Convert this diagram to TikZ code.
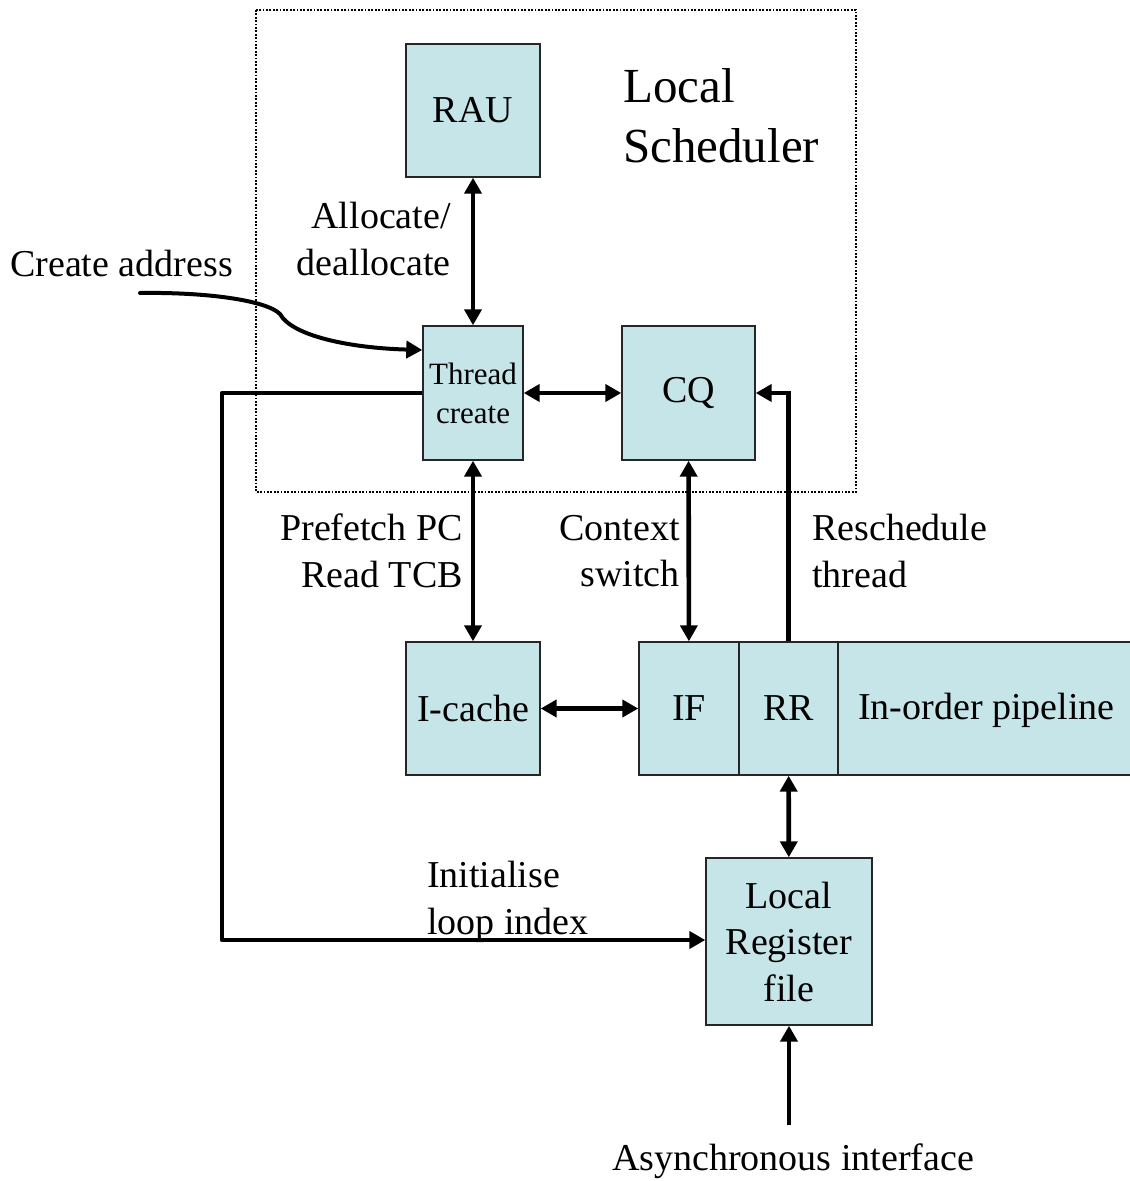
\documentclass[tikz,border=0pt]{standalone}
\usepackage{fontspec}
\setmainfont{Liberation Serif}
\usetikzlibrary{arrows.meta}
\definecolor{cellfill}{RGB}{198,229,232}
\newcommand{\lbl}{\fontsize{38}{46.5}\selectfont}
\newcommand{\titlelbl}{\fontsize{49}{60}\selectfont}
\newcommand{\smalllbl}{\fontsize{31}{39}\selectfont}
\begin{document}
\begin{tikzpicture}[x=1pt,y=-1pt,
  unit/.style={draw=black!85, line width=1.4pt, fill=cellfill, inner sep=0pt, align=center, font=\lbl},
  txt/.style={inner sep=0pt, font=\lbl},
  link/.style={line width=4.6pt, {Triangle[length=16pt,width=17pt]}-{Triangle[length=16pt,width=17pt]}},
  feed/.style={line width=4.6pt, -{Triangle[length=16pt,width=17pt]}},
  scope box/.style={line width=2.8pt, dash pattern=on 1.8pt off 1.6pt}]
\clip (0,0) rectangle (1130,1181);
\fill[white] (0,0) rectangle (1130,1181);

% local scheduler boundary
\draw[scope box] (256,10) rectangle (856,492);
\node[txt, font=\titlelbl, align=left, anchor=west] (lsched) at (623,116) {Local\\Scheduler};

% functional units
\node[unit, minimum width=134pt, minimum height=133pt] (rau) at (473,110.5) {RAU};
\node[unit, minimum width=100pt, minimum height=134pt, font=\smalllbl] (tc) at (473,393) {Thread\\create};
\node[unit, minimum width=133pt, minimum height=134pt] (cq) at (688.5,393) {CQ};
\node[unit, minimum width=134pt, minimum height=133pt] (icache) at (473,708.5) {I-cache};
\node[unit, minimum width=100pt, minimum height=133pt] (if) at (689,708.5) {IF};
\node[unit, minimum width=99pt, minimum height=133pt] (rr) at (788.5,708.5) {RR};
\node[unit, minimum width=302pt, minimum height=133pt] (pipe) at (989,708.5) {};
\node[txt, anchor=west] (pipetxt) at (858,710) {In-order pipeline};
\node[unit, minimum width=166pt, minimum height=167pt] (lrf) at (789,941.5) {Local\\Register\\file};

% labels
\node[txt, align=right, anchor=east] (alloc) at (451,239) {Allocate/\\deallocate};
\node[txt, anchor=west] (caddr) at (10,263) {Create address};
\node[txt, align=right, anchor=east] (pref) at (463,551) {Prefetch PC\\Read TCB};
\node[txt, align=right, anchor=east] (ctx) at (680,551) {Context\\switch};
\node[txt, align=left, anchor=west] (resch) at (812,551) {Reschedule\\thread};
\node[txt, align=left, anchor=west] (initl) at (427,902) {Initialise\\loop index};
\node[txt] (async) at (793,1161) {Asynchronous interface};

% free ends of connectors
\coordinate (castart) at (140,293);
\coordinate (bend) at (222,940);
\coordinate (asrc) at (789,1125);

% connectors
\draw[link] (rau) -- (tc);
\draw[link] (tc) -- (cq);
\draw[link] (tc) -- (icache);
\draw[link] (cq) -- (if);
\draw[link] (icache) -- (if);
\draw[link] (rr) -- (lrf);
\draw[feed] (rr.north) |- (cq.east);
\draw[feed, line join=round] (tc.west) -| (bend) -- (bend -| lrf.west);
\draw[feed] (asrc) -- (lrf.south);
\draw[line width=4pt, line cap=round, -{Triangle[length=16pt,width=17pt]}]
  (castart) .. controls (205,292) and (266,300) .. (280,314)
  .. controls (292,336) and (350,348) .. ([yshift=43pt]tc.west);
\end{tikzpicture}
\end{document}
